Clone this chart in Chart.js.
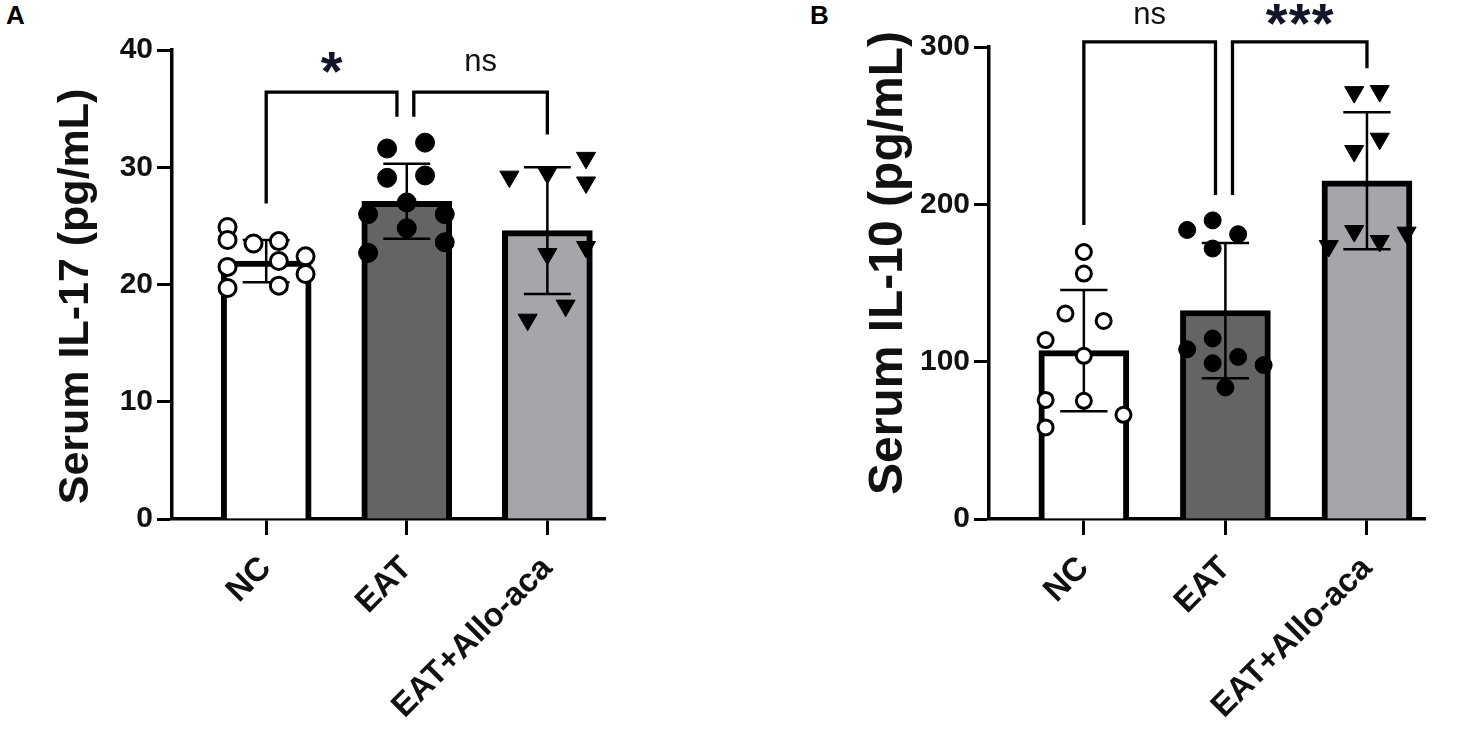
<!DOCTYPE html>
<html><head><meta charset="utf-8">
<script src="https://cdn.jsdelivr.net/npm/chart.js@4.4.1/dist/chart.umd.min.js"></script>
<style>
html,body{margin:0;padding:0;background:#fff;width:1463px;height:730px;overflow:hidden;}
canvas{position:absolute;top:0;}
#ca{left:0;}
#cb{left:800px;}
.lbl{position:absolute;font:bold 26px "Liberation Sans",Arial,sans-serif;color:#000;}
</style></head><body>
<div class="lbl" style="left:6px;top:0px">A</div>
<div class="lbl" style="left:810px;top:0px">B</div>
<canvas id="ca" width="800" height="730"></canvas>
<canvas id="cb" width="663" height="730"></canvas>
<script>
// ---------- data ----------
const categories = ['NC', 'EAT', 'EAT+Allo-aca'];

// Panel A: Serum IL-17 (pg/mL)
const il17Mean = [22.0, 27.1, 24.6];
const il17SD = [1.8, 3.2, 5.4];
const il17NC = [24.9, 23.8, 23.5, 23.7, 22.0, 22.4, 21.5, 20.9, 19.7, 19.9];
const il17NCJitter = [-0.275, -0.275, -0.09, 0.09, 0.09, 0.28, -0.275, 0.28, -0.275, 0.09];
const il17EAT = [31.6, 32.1, 29.1, 29.3, 27.0, 26.0, 26.0, 24.8, 23.6, 22.7];
const il17EATJitter = [-0.14, 0.13, -0.14, 0.13, 0, -0.275, 0.27, 0, 0.27, -0.275];
const il17Allo = [29.2, 29.5, 30.8, 28.7, 22.6, 23.2, 18.2, 17.0];
const il17AlloJitter = [-0.27, 0, 0.275, 0.275, 0, 0.275, 0.13, -0.14];
const il17Ticks = [0, 10, 20, 30, 40];
const il17SigLabels = ['*', 'ns'];
const il17SigLegsX = [[1, 1.93], [2.05, 3]];
const il17SigTop = [36.4, 36.4];
const il17SigLegEnds = [[26.9, 34.3], [34.3, 32.8]];
const il17SigTextY = 38.9;

// Panel B: Serum IL-10 (pg/mL)
const il10Mean = [107, 132.5, 215];
const il10SD = [38.5, 43, 43.5];
const il10NC = [169.7, 156, 130.6, 125.9, 113.7, 103.7, 75.1, 75.7, 66.2, 58.2];
const il10NCJitter = [0, 0, -0.13, 0.14, -0.27, 0, 0, -0.27, 0.28, -0.27];
const il10EAT = [183.7, 189.8, 181, 171.9, 107.9, 114.7, 103, 99, 97.8, 83.6];
const il10EATJitter = [-0.27, -0.09, 0.09, -0.09, -0.27, -0.09, 0.09, -0.09, 0.27, 0];
const il10Allo = [271.3, 272, 241.7, 233.9, 183, 176.7, 182, 173.5];
const il10AlloJitter = [-0.09, 0.09, 0.09, -0.09, -0.09, 0.09, 0.28, -0.27];
const il10Ticks = [0, 100, 200, 300];
const il10SigLabels = ['ns', '***'];
const il10SigLegsX = [[1, 1.93], [2.05, 3]];
const il10SigTop = [303.2, 303.2];
const il10SigLegEnds = [[186.9, 205.9], [205.9, 286.5]];
const il10SigTextY = 320;

// ---------- styling ----------
const FONT = '"Liberation Sans", Arial, Helvetica, sans-serif';
const barFills = ['#ffffff', '#646464', '#a6a6aa'];
const INK = '#111111';

const panels = {
  ca: {
    title: 'Serum IL-17 (pg/mL)  ', titleSize: 43, max: 40, ticks: il17Ticks,
    mean: il17Mean, sd: il17SD,
    groups: [il17NC, il17EAT, il17Allo], jit: [il17NCJitter, il17EATJitter, il17AlloJitter],
    sigLabels: il17SigLabels, sigLegsX: il17SigLegsX, sigTop: il17SigTop, sigLegEnds: il17SigLegEnds, sigTextY: il17SigTextY,
    yW: 172, padT: 50, padR: 195, titlePad: 50, r: 9.5, triR: 11
  },
  cb: {
    title: '   Serum IL-10 (pg/mL)', titleSize: 48, max: 300, ticks: il10Ticks,
    mean: il10Mean, sd: il10SD,
    groups: [il10NC, il10EAT, il10Allo], jit: [il10NCJitter, il10EATJitter, il10AlloJitter],
    sigLabels: il10SigLabels, sigLegsX: il10SigLegsX, sigTop: il10SigTop, sigLegEnds: il10SigLegEnds, sigTextY: il10SigTextY,
    yW: 189, padT: 47, padR: 38, titlePad: 60, r: 8.5, triR: 11
  }
};

const annot = {
  id: 'annot',
  afterDatasetDraw(chart, args) {
    if (args.index !== 0) return;
    const p = panels[chart.canvas.id];
    const xs = chart.scales.x, ys = chart.scales.y, ctx = chart.ctx;
    ctx.save();
    ctx.strokeStyle = '#000';
    ctx.lineWidth = 2.5;
    ctx.lineCap = 'butt';
    p.mean.forEach((m, i) => {
      const x = xs.getPixelForValue(i + 1);
      const hw = xs.getPixelForValue(i + 1.167) - x;
      const yt = ys.getPixelForValue(m + p.sd[i]);
      const yb = ys.getPixelForValue(m - p.sd[i]);
      ctx.beginPath();
      ctx.moveTo(x, yt); ctx.lineTo(x, yb);
      ctx.moveTo(x - hw, yt); ctx.lineTo(x + hw, yt);
      ctx.moveTo(x - hw, yb); ctx.lineTo(x + hw, yb);
      ctx.stroke();
    });
    ctx.restore();
  },
  afterDraw(chart) {
    const p = panels[chart.canvas.id];
    const xs = chart.scales.x, ys = chart.scales.y, ctx = chart.ctx;
    ctx.save();
    ctx.strokeStyle = '#000';
    ctx.lineWidth = 3.3;
    ctx.lineJoin = 'miter';
    p.sigLabels.forEach((lab, i) => {
      const x1 = xs.getPixelForValue(p.sigLegsX[i][0]);
      const x2 = xs.getPixelForValue(p.sigLegsX[i][1]);
      const yt = ys.getPixelForValue(p.sigTop[i]);
      ctx.beginPath();
      ctx.moveTo(x1, ys.getPixelForValue(p.sigLegEnds[i][0]));
      ctx.lineTo(x1, yt);
      ctx.lineTo(x2, yt);
      ctx.lineTo(x2, ys.getPixelForValue(p.sigLegEnds[i][1]));
      ctx.stroke();
      const tx = (x1 + x2) / 2;
      const ty = ys.getPixelForValue(p.sigTextY);
      ctx.textAlign = 'center';
      if (lab.indexOf('*') >= 0) {
        ctx.fillStyle = '#15152a';
        ctx.textBaseline = 'alphabetic';
        const fs = 56;
        ctx.font = 'bold ' + fs + 'px ' + FONT;
        const n = lab.length, gap = 23;
        for (let k = 0; k < n; k++) {
          ctx.fillText('*', tx + (k - (n - 1) / 2) * gap, ty + 0.48 * fs);
        }
      } else {
        ctx.fillStyle = INK;
        ctx.textBaseline = 'middle';
        ctx.font = '31px ' + FONT;
        ctx.fillText(lab, tx, ty);
      }
    });
    ctx.restore();
  }
};

function pts(idx, vals, jit) {
  return vals.map((v, i) => ({ x: idx + 1 + jit[i], y: v }));
}

function build(id) {
  const p = panels[id];
  return new Chart(document.getElementById(id), {
    type: 'bar',
    data: {
      datasets: [
        {
          type: 'bar',
          data: p.mean.map((m, i) => ({ x: i + 1, y: m })),
          backgroundColor: barFills, borderColor: '#000', borderWidth: 6,
          borderSkipped: 'start', barThickness: 90, order: 3
        },
        {
          type: 'scatter', data: pts(0, p.groups[0], p.jit[0]),
          pointStyle: 'circle', pointRadius: p.r - 1, pointBorderWidth: 3,
          pointBackgroundColor: '#fff', pointBorderColor: '#000', order: 1
        },
        {
          type: 'scatter', data: pts(1, p.groups[1], p.jit[1]),
          pointStyle: 'circle', pointRadius: p.r, pointBorderWidth: 1,
          pointBackgroundColor: '#000', pointBorderColor: '#000', order: 1
        },
        {
          type: 'scatter', data: pts(2, p.groups[2], p.jit[2]),
          pointStyle: 'triangle', pointRotation: 180, pointRadius: p.triR, pointBorderWidth: 1,
          pointBackgroundColor: '#000', pointBorderColor: '#000', order: 1
        }
      ]
    },
    options: {
      responsive: false, animation: false, devicePixelRatio: 1,
      layout: { padding: { left: 0, right: p.padR, top: p.padT, bottom: 0 } },
      plugins: { legend: { display: false }, tooltip: { enabled: false } },
      scales: {
        x: {
          type: 'linear', min: 0.33, max: 3.41, offset: false,
          afterBuildTicks: s => { s.ticks = [1, 2, 3].map(v => ({ value: v })); },
          afterFit: s => { s.height = 730 - 519; },
          grid: { display: true, offset: false, drawOnChartArea: false, drawTicks: true, tickLength: 16, tickWidth: 3, tickColor: '#000' },
          border: { display: true, color: '#000', width: 3.5 },
          ticks: {
            autoSkip: false, minRotation: 45, maxRotation: 45, padding: 14,
            color: INK, font: { family: FONT, weight: 'bold', size: 33 },
            callback: v => categories[Math.round(v) - 1]
          }
        },
        y: {
          min: 0, max: p.max,
          afterBuildTicks: s => { s.ticks = p.ticks.map(v => ({ value: v })); },
          afterFit: s => { s.width = p.yW; },
          grid: { display: true, offset: false, drawOnChartArea: false, drawTicks: true, tickLength: 15, tickWidth: 3, tickColor: '#000' },
          border: { display: true, color: '#000', width: 3.5 },
          ticks: { color: INK, font: { family: FONT, weight: 'bold', size: 30 }, padding: 4 },
          title: {
            display: true, text: p.title, color: INK,
            font: { family: FONT, weight: 'bold', size: p.titleSize },
            padding: { top: p.titlePad, bottom: 0 }
          }
        }
      }
    },
    plugins: [annot]
  });
}

build('ca');
build('cb');
</script>
</body></html>
